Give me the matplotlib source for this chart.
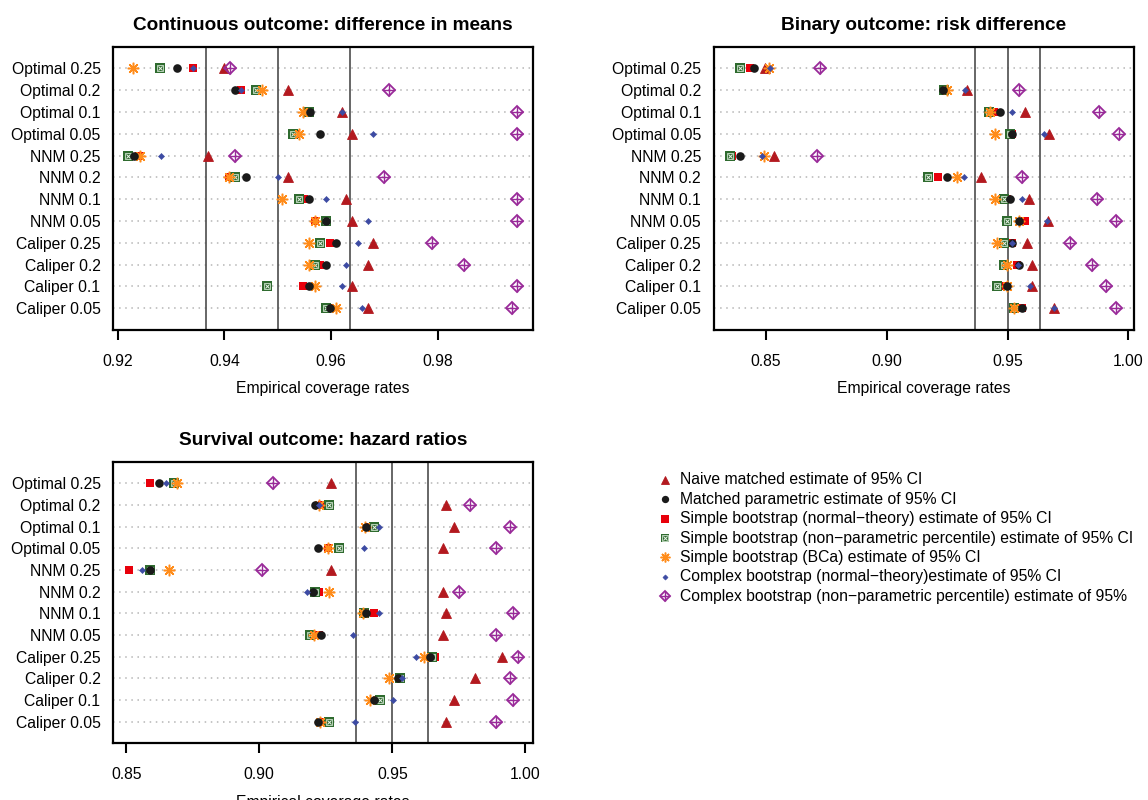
import numpy as np
import matplotlib
matplotlib.use("Agg")
import matplotlib.pyplot as plt

plt.rcParams["font.family"] = ["Liberation Sans", "DejaVu Sans"]

# --------------------------------------------
# data: coverage rates, one list per CI method, rows top -> bottom
# --------------------------------------------

row_labels = ["Optimal 0.25", "Optimal 0.2", "Optimal 0.1", "Optimal 0.05",
              "NNM 0.25", "NNM 0.2", "NNM 0.1", "NNM 0.05",
              "Caliper 0.25", "Caliper 0.2", "Caliper 0.1", "Caliper 0.05"]

# continuous outcome: difference in means
cont_naive = [0.9399, 0.9520, 0.9620, 0.9640, 0.9370, 0.9520, 0.9629, 0.9640, 0.9679, 0.9670, 0.9640, 0.9670]
cont_param = [0.9311, 0.9420, 0.9561, 0.9579, 0.9231, 0.9440, 0.9559, 0.9590, 0.9609, 0.9590, 0.9559, 0.9599]
cont_snorm = [0.9341, 0.9431, 0.9558, 0.9535, 0.9240, 0.9409, 0.9550, 0.9570, 0.9599, 0.9579, 0.9548, 0.9599]
cont_sperc = [0.9279, 0.9459, 0.9559, 0.9529, 0.9220, 0.9420, 0.9540, 0.9590, 0.9579, 0.9570, 0.9479, 0.9590]
cont_sbca = [0.9229, 0.9470, 0.9548, 0.9540, 0.9241, 0.9409, 0.9509, 0.9570, 0.9559, 0.9559, 0.9570, 0.9609]
cont_cnorm = [0.9341, 0.9431, 0.9620, 0.9679, 0.9281, 0.9500, 0.9590, 0.9670, 0.9650, 0.9629, 0.9620, 0.9659]
cont_cperc = [0.9411, 0.9709, 0.9949, 0.9949, 0.9420, 0.9699, 0.9949, 0.9949, 0.9789, 0.9849, 0.9949, 0.9939]

# binary outcome: risk difference
bin_naive = [0.8497, 0.9331, 0.9570, 0.9672, 0.8532, 0.9391, 0.9590, 0.9669, 0.9579, 0.9600, 0.9600, 0.9690]
bin_param = [0.8452, 0.9231, 0.9469, 0.9520, 0.8391, 0.9251, 0.9508, 0.9549, 0.9520, 0.9549, 0.9499, 0.9559]
bin_snorm = [0.8432, 0.9235, 0.9442, 0.9517, 0.8359, 0.9211, 0.9497, 0.9572, 0.9517, 0.9538, 0.9486, 0.9559]
bin_sperc = [0.8391, 0.9235, 0.9421, 0.9508, 0.8352, 0.9170, 0.9486, 0.9499, 0.9486, 0.9486, 0.9458, 0.9527]
bin_sbca = [0.8511, 0.9251, 0.9428, 0.9448, 0.8493, 0.9290, 0.9448, 0.9549, 0.9458, 0.9497, 0.9499, 0.9527]
bin_cnorm = [0.8518, 0.9324, 0.9520, 0.9652, 0.8483, 0.9320, 0.9559, 0.9662, 0.9520, 0.9545, 0.9593, 0.9690]
bin_cperc = [0.8722, 0.9549, 0.9879, 0.9959, 0.8711, 0.9559, 0.9869, 0.9949, 0.9759, 0.9848, 0.9907, 0.9947]

# survival outcome: hazard ratios
surv_naive = [0.9269, 0.9702, 0.9731, 0.9691, 0.9269, 0.9691, 0.9702, 0.9691, 0.9912, 0.9812, 0.9731, 0.9702]
surv_param = [0.8622, 0.9211, 0.9401, 0.9219, 0.8590, 0.9202, 0.9401, 0.9232, 0.9640, 0.9520, 0.9432, 0.9219]
surv_snorm = [0.8590, 0.9236, 0.9411, 0.9258, 0.8511, 0.9223, 0.9432, 0.9223, 0.9662, 0.9524, 0.9442, 0.9248]
surv_sperc = [0.8678, 0.9261, 0.9430, 0.9301, 0.8590, 0.9211, 0.9392, 0.9189, 0.9649, 0.9530, 0.9452, 0.9261]
surv_sbca = [0.8691, 0.9223, 0.9399, 0.9258, 0.8659, 0.9261, 0.9390, 0.9207, 0.9618, 0.9486, 0.9417, 0.9229]
surv_cnorm = [0.8650, 0.9225, 0.9451, 0.9392, 0.8559, 0.9179, 0.9449, 0.9351, 0.9590, 0.9536, 0.9501, 0.9361]
surv_cperc = [0.9050, 0.9791, 0.9941, 0.9891, 0.9010, 0.9749, 0.9952, 0.9891, 0.9971, 0.9941, 0.9952, 0.9891]

legend_labels = ["Naive matched estimate of 95% CI",
                 "Matched parametric estimate of 95% CI",
                 "Simple bootstrap (normal\u2212theory) estimate of 95% CI",
                 "Simple bootstrap (non\u2212parametric percentile) estimate of 95% CI",
                 "Simple bootstrap (BCa) estimate of 95% CI",
                 "Complex bootstrap (normal\u2212theory)estimate of 95% CI",
                 "Complex bootstrap (non\u2212parametric percentile) estimate of 95%"]

mc_bounds = [0.9365, 0.95, 0.9635]

# --------------------------------------------
# marker styles
# --------------------------------------------

c_naive = "#B3191F"
c_param = "#1A1A1A"
c_snorm = "#E8000B"
c_sperc = "#2F6B2F"
c_sbca = "#FF8C1A"
c_cnorm = "#3D4BA3"
c_cperc = "#992A99"


def put(ax, xs, ys, kind, s=1.0):
    if kind == "naive":
        ax.plot(xs, ys, ls="none", marker="^", ms=7.0 * s, color=c_naive, mew=0.6)
    elif kind == "param":
        ax.plot(xs, ys, ls="none", marker="o", ms=6.2 * s, color=c_param, mew=0)
    elif kind == "snorm":
        ax.plot(xs, ys, ls="none", marker="s", ms=6.4 * s, color=c_snorm, mew=0)
    elif kind == "sperc":
        ax.plot(xs, ys, ls="none", marker="s", ms=6.9 * s, color=c_sperc, mew=0)
        ax.plot(xs, ys, ls="none", marker="s", ms=4.3 * s, mfc="none", mec="#CFE3CF", mew=0.6)
        ax.plot(xs, ys, ls="none", marker="x", ms=3.3 * s, color="#E8F2E8", mew=0.7)
    elif kind == "sbca":
        ax.plot(xs, ys, ls="none", marker=(8, 2, 0), ms=8.3 * s, color=c_sbca, mew=1.1)
    elif kind == "cnorm":
        ax.plot(xs, ys, ls="none", marker="D", ms=3.1 * s, color=c_cnorm, mew=0.4)
    elif kind == "cperc":
        ax.plot(xs, ys, ls="none", marker="D", ms=6.2 * s, mfc="none", mec=c_cperc, mew=1.3)
        ax.plot(xs, ys, ls="none", marker="+", ms=8.7 * s, color=c_cperc, mew=1.0)


draw_order = ["naive", "snorm", "sperc", "sbca", "param", "cnorm", "cperc"]
legend_order = ["naive", "param", "snorm", "sperc", "sbca", "cnorm", "cperc"]

panels = [
    ("Continuous outcome: difference in means",
     dict(naive=cont_naive, param=cont_param, snorm=cont_snorm, sperc=cont_sperc,
          sbca=cont_sbca, cnorm=cont_cnorm, cperc=cont_cperc),
     [0.92, 0.94, 0.96, 0.98], (0.9191, 0.9979), [113 / 1148, 470 / 800, 420 / 1148, 283.3 / 800]),
    ("Binary outcome: risk difference",
     dict(naive=bin_naive, param=bin_param, snorm=bin_snorm, sperc=bin_sperc,
          sbca=bin_sbca, cnorm=bin_cnorm, cperc=bin_cperc),
     [0.85, 0.90, 0.95, 1.00], (0.8283, 1.0021), [713.5 / 1148, 470 / 800, 420 / 1148, 283.3 / 800]),
    ("Survival outcome: hazard ratios",
     dict(naive=surv_naive, param=surv_param, snorm=surv_snorm, sperc=surv_sperc,
          sbca=surv_sbca, cnorm=surv_cnorm, cperc=surv_cperc),
     [0.85, 0.90, 0.95, 1.00], (0.8450, 1.0029), [113 / 1148, 56.7 / 800, 420 / 1148, 281.6 / 800]),
]

fig = plt.figure(figsize=(11.48, 8.0), dpi=100)

n = len(row_labels)
rows = np.arange(n, 0, -1)

for title, series, ticks, xlim, rect in panels:
    ax = fig.add_axes(rect)
    ax.set_xlim(*xlim)
    ax.set_ylim(0, n + 1)
    for r in rows:
        ax.axhline(r, color="#B5B5B5", lw=1.1, ls=(0, (1, 3)), zorder=0)
    for b in mc_bounds:
        ax.axvline(b, color="#4D4D4D", lw=1.2, zorder=1)
    for kind in draw_order:
        put(ax, series[kind], rows, kind)
    ax.set_yticks(rows)
    ax.set_yticklabels(row_labels, fontsize=11.3)
    ax.tick_params(axis="y", length=0, pad=9)
    ax.set_xticks(ticks)
    ax.set_xticklabels([f"{t:.2f}" for t in ticks], fontsize=11.3)
    ax.tick_params(axis="x", length=7.2, width=1.5, pad=10)
    ax.set_xlabel("Empirical coverage rates", fontsize=11.3, labelpad=9)
    ax.set_title(title, fontsize=13.7, fontweight="bold", pad=12)
    for sp in ax.spines.values():
        sp.set_linewidth(1.6)

# --------------------------------------------
# legend, drawn in pixel coordinates
# --------------------------------------------

lax = fig.add_axes([0, 0, 1, 1])
lax.set_xlim(0, 1148)
lax.set_ylim(800, 0)
lax.axis("off")
for i, (kind, lab) in enumerate(zip(legend_order, legend_labels)):
    y = 480 + 19.35 * i
    put(lax, [665], [y], kind, s=0.85)
    lax.text(680, y, lab, fontsize=11.3, va="center", ha="left")

fig.savefig("out.png", dpi=100)
